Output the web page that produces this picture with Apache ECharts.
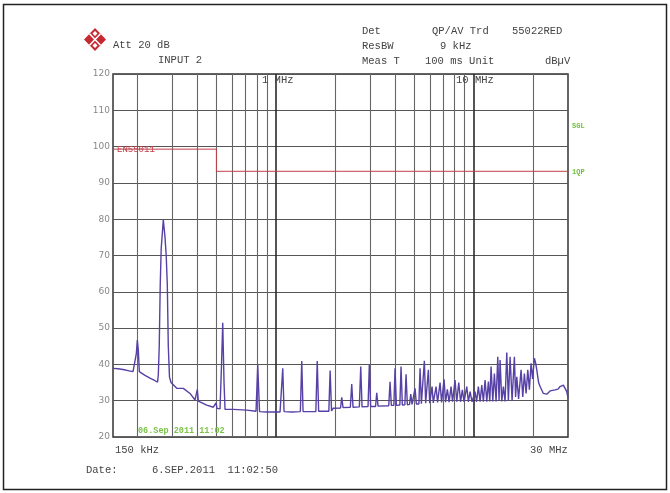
<!DOCTYPE html>
<html><head><meta charset="utf-8">
<script src="https://cdn.jsdelivr.net/npm/echarts@6/dist/echarts.min.js"></script>
<style>html,body{margin:0;padding:0;background:#fff}#c{width:670px;height:493px}</style>
</head><body><div id="c"></div>
<script>
// Frequencies in MHz, levels in dBµV
const freqMHz = [
0.150,0.159,0.1685,0.1786,0.1894,0.1938,0.1968,0.1991,0.2014,0.2038,0.2066,0.2177,0.2308,0.2447,0.2519,
0.2542,0.2570,0.2600,0.2630,0.2695,0.2749,0.2787,0.2823,0.2856,0.2896,0.2948,0.2982,0.3151,0.3402,0.3678,
0.3898,0.3967,0.4004,0.4051,0.4132,0.4468,0.4824,0.4921,0.4979,0.5037,0.5114,0.5216,0.5308,0.5383,0.5465,
0.5529,0.6091,0.7120,0.7933,0.8092,0.8263,0.8988,1.0493,1.0678,1.0829,1.0994,1.2066,1.329,1.3509,1.3715,
1.4878,1.5918,1.6179,1.6446,1.852,1.880,1.911,1.9448,
2.1227,2.1525,2.1854,2.3785,2.4176,2.4545,2.6416,2.6851,2.7262,2.9234,2.9681,3.0134,3.1905,3.2353,3.2848,
3.7205,3.7774,3.8351,3.9475,4.0039,4.0650,4.2339,4.2934,4.3590,4.4878,4.5509,4.6204,4.7405,4.8073,4.8806,
4.9840,5.0545,5.1317,5.2833,5.3577,5.4395,5.5547,5.6328,5.7188,5.8196,5.9018,5.9918,6.0765,6.1621,6.2488,
6.3664,6.4558,
6.569,6.763,6.882,7.085,7.210,7.363,7.510,7.687,7.822,8.052,8.213,8.407,8.585,8.767,8.942,9.229,9.402,9.590,
9.817,10.165,10.345,10.564,10.775,10.99,11.198,11.422,11.651,11.871,12.066,12.25,12.495,12.73,12.984,13.243,
13.445,13.603,13.875,14.136,14.418,14.707,14.984,15.284,15.644,16.069,16.295,16.524,16.874,17.373,17.72,
18.053,18.414,18.782,19.135,19.518,19.862,20.283,20.568,20.858,21.3,21.675,22.526,23.434,24.352,25.808,
26.726,27.356,28.428,29.577,30.0
];
const levelDb = [
38.9,38.8,38.6,38.3,38.0,38.2,43,46.7,44,38,37.5,37,36.2,35.5,35.1,
37,45,62,72,79.8,75,70,62,45,36.5,35,34.8,33.4,33.4,32.0,
30.2,30.0,33.1,29.9,29.7,28.8,28.2,28.1,29.4,27.9,27.6,27.8,40,51.5,35,
27.6,27.6,27.4,27.1,39.8,27.0,26.9,26.9,27.0,38.9,27.0,26.9,27.0,40.9,27.0,
27.0,27.0,40.9,27.1,27.1,38.3,27.2,27.9,
28.0,30.9,28.1,28.2,34.6,28.2,28.3,39.4,28.3,28.4,40.1,28.4,28.4,32.2,28.5,
28.6,35.2,28.7,28.7,38.9,28.7,28.8,39.4,28.8,28.9,37.3,28.9,29.0,31.8,29.0,
29.0,33.4,29.1,29.1,38.9,29.2,29.2,41.0,29.3,29.3,38.5,29.3,29.4,33.9,29.4,
29.4,33.9,
29.5,35.0,29.5,35.9,29.6,33.1,29.6,33.9,29.7,35.7,29.7,35.0,29.7,33.0,29.7,33.9,29.7,32.5,
29.7,32.5,29.7,33.9,29.7,34.3,29.7,35.7,29.7,35.3,29.8,39.4,29.8,37.5,29.8,42.1,
30.0,41.2,29.8,33.9,29.8,43.3,30.0,42.1,30.0,42.1,31.0,36.6,30.5,38.5,31.0,
37.5,32.0,38.5,33.0,40.3,36.0,41.7,40.5,38.5,35.0,33.9,32.0,31.8,32.7,33.0,
33.2,33.9,34.3,32.5,30.7
];
// Limit line (EN55011)
const limitFreq = [0.15, 0.5, 0.5, 30];
const limitDb = [99.3, 99.3, 93.2, 93.2];
// Grid lines of the log frequency axis
const minorGridMHz = [0.2,0.3,0.4,0.5,0.6,0.7,0.8,0.9,2,3,4,5,6,7,8,9,20];
const majorGridMHz = [1,10];
const yTicks = {min:20, max:120, step:10};

const chart = echarts.init(document.getElementById('c'));
const mono = '"Liberation Mono","DejaVu Sans Mono",monospace';
function T(x,y,t,font,fill){return {type:'text', x:x, y:y, style:{text:t, font:font||('10.5px '+mono), fill:fill||'#444', textVerticalAlign:'middle'}, z:10};}

chart.setOption({
  animation:false,
  grid:{left:113, top:74, width:455, height:363, show:true, borderColor:'#333', borderWidth:1.5, backgroundColor:'transparent'},
  xAxis:{type:'log', logBase:10, min:0.15, max:30, axisLabel:{show:false}, axisTick:{show:false}, axisLine:{show:false}, splitLine:{show:false}, minorSplitLine:{show:false}},
  yAxis:{type:'value', min:yTicks.min, max:yTicks.max, interval:yTicks.step,
    axisLabel:{color:'#888', fontSize:9, fontFamily:'DejaVu Sans', margin:3},
    axisTick:{show:false}, axisLine:{show:false},
    splitLine:{lineStyle:{color:'#555', width:1.2}}},
  series:[
    {type:'line', data:[], silent:true, z:1,
     markLine:{silent:true, symbol:'none', animation:false, label:{show:false}, z:1,
       data: minorGridMHz.map(f=>({xAxis:f, lineStyle:{color:'#666', width:1.1, type:'solid'}}))
         .concat(majorGridMHz.map(f=>({xAxis:f, lineStyle:{color:'#2a2a2a', width:1.6, type:'solid'}})))}},
    {type:'line', data:limitFreq.map((f,i)=>[f,limitDb[i]]), showSymbol:false, silent:true, z:4,
     lineStyle:{color:'#c0404a', width:1}},
    {type:'line', data:freqMHz.map((f,i)=>[f,levelDb[i]]), showSymbol:false, silent:true, z:5,
     lineStyle:{color:'#5740a6', width:1.4}}
  ],
  graphic:[
    {type:'rect', shape:{x:3.5, y:4.5, width:663, height:485}, style:{fill:'none', stroke:'#222', lineWidth:1.5}, z:0},
    {type:'polygon', shape:{points:[[95,28],[106,39.5],[95,51],[84,39.5]]}, style:{fill:'#c52a32'}, z:10},
    {type:'polyline', shape:{points:[[89.5,33.8],[100.5,45.2]]}, style:{stroke:'#fff', lineWidth:1.6}, z:11},
    {type:'polyline', shape:{points:[[100.5,33.8],[89.5,45.2]]}, style:{stroke:'#fff', lineWidth:1.6}, z:11},
    {type:'polygon', shape:{points:[[95,31],[97.5,33.5],[95,36],[92.5,33.5]]}, style:{fill:'#fff'}, z:11},
    {type:'polygon', shape:{points:[[95,43],[97.5,45.5],[95,48],[92.5,45.5]]}, style:{fill:'#fff'}, z:11},
    T(113,45,'Att 20 dB'),
    T(158,60,'INPUT 2'),
    T(362,31,'Det'), T(432,31,'QP/AV Trd'), T(512,31,'55022RED'),
    T(362,46,'ResBW'), T(440,46,'9 kHz'),
    T(362,61,'Meas T'), T(425,61,'100 ms Unit'), T(545,61,'dBµV'),
    T(262,80,'1 MHz'), T(456,80,'10 MHz'),
    T(117,150,'EN55011','9px '+mono,'#c0404a'),
    T(572,126,'SGL','bold 7px '+mono,'#6cbf3a'),
    T(572,172,'1QP','bold 7px '+mono,'#6cbf3a'),
    T(138,431,'06.Sep 2011 11:02','bold 8.5px '+mono,'#7cc34a'),
    T(115,450,'150 kHz'), T(530,450,'30 MHz'),
    T(86,470,'Date:'), T(152,470,'6.SEP.2011  11:02:50')
  ]
});
</script></body></html>
